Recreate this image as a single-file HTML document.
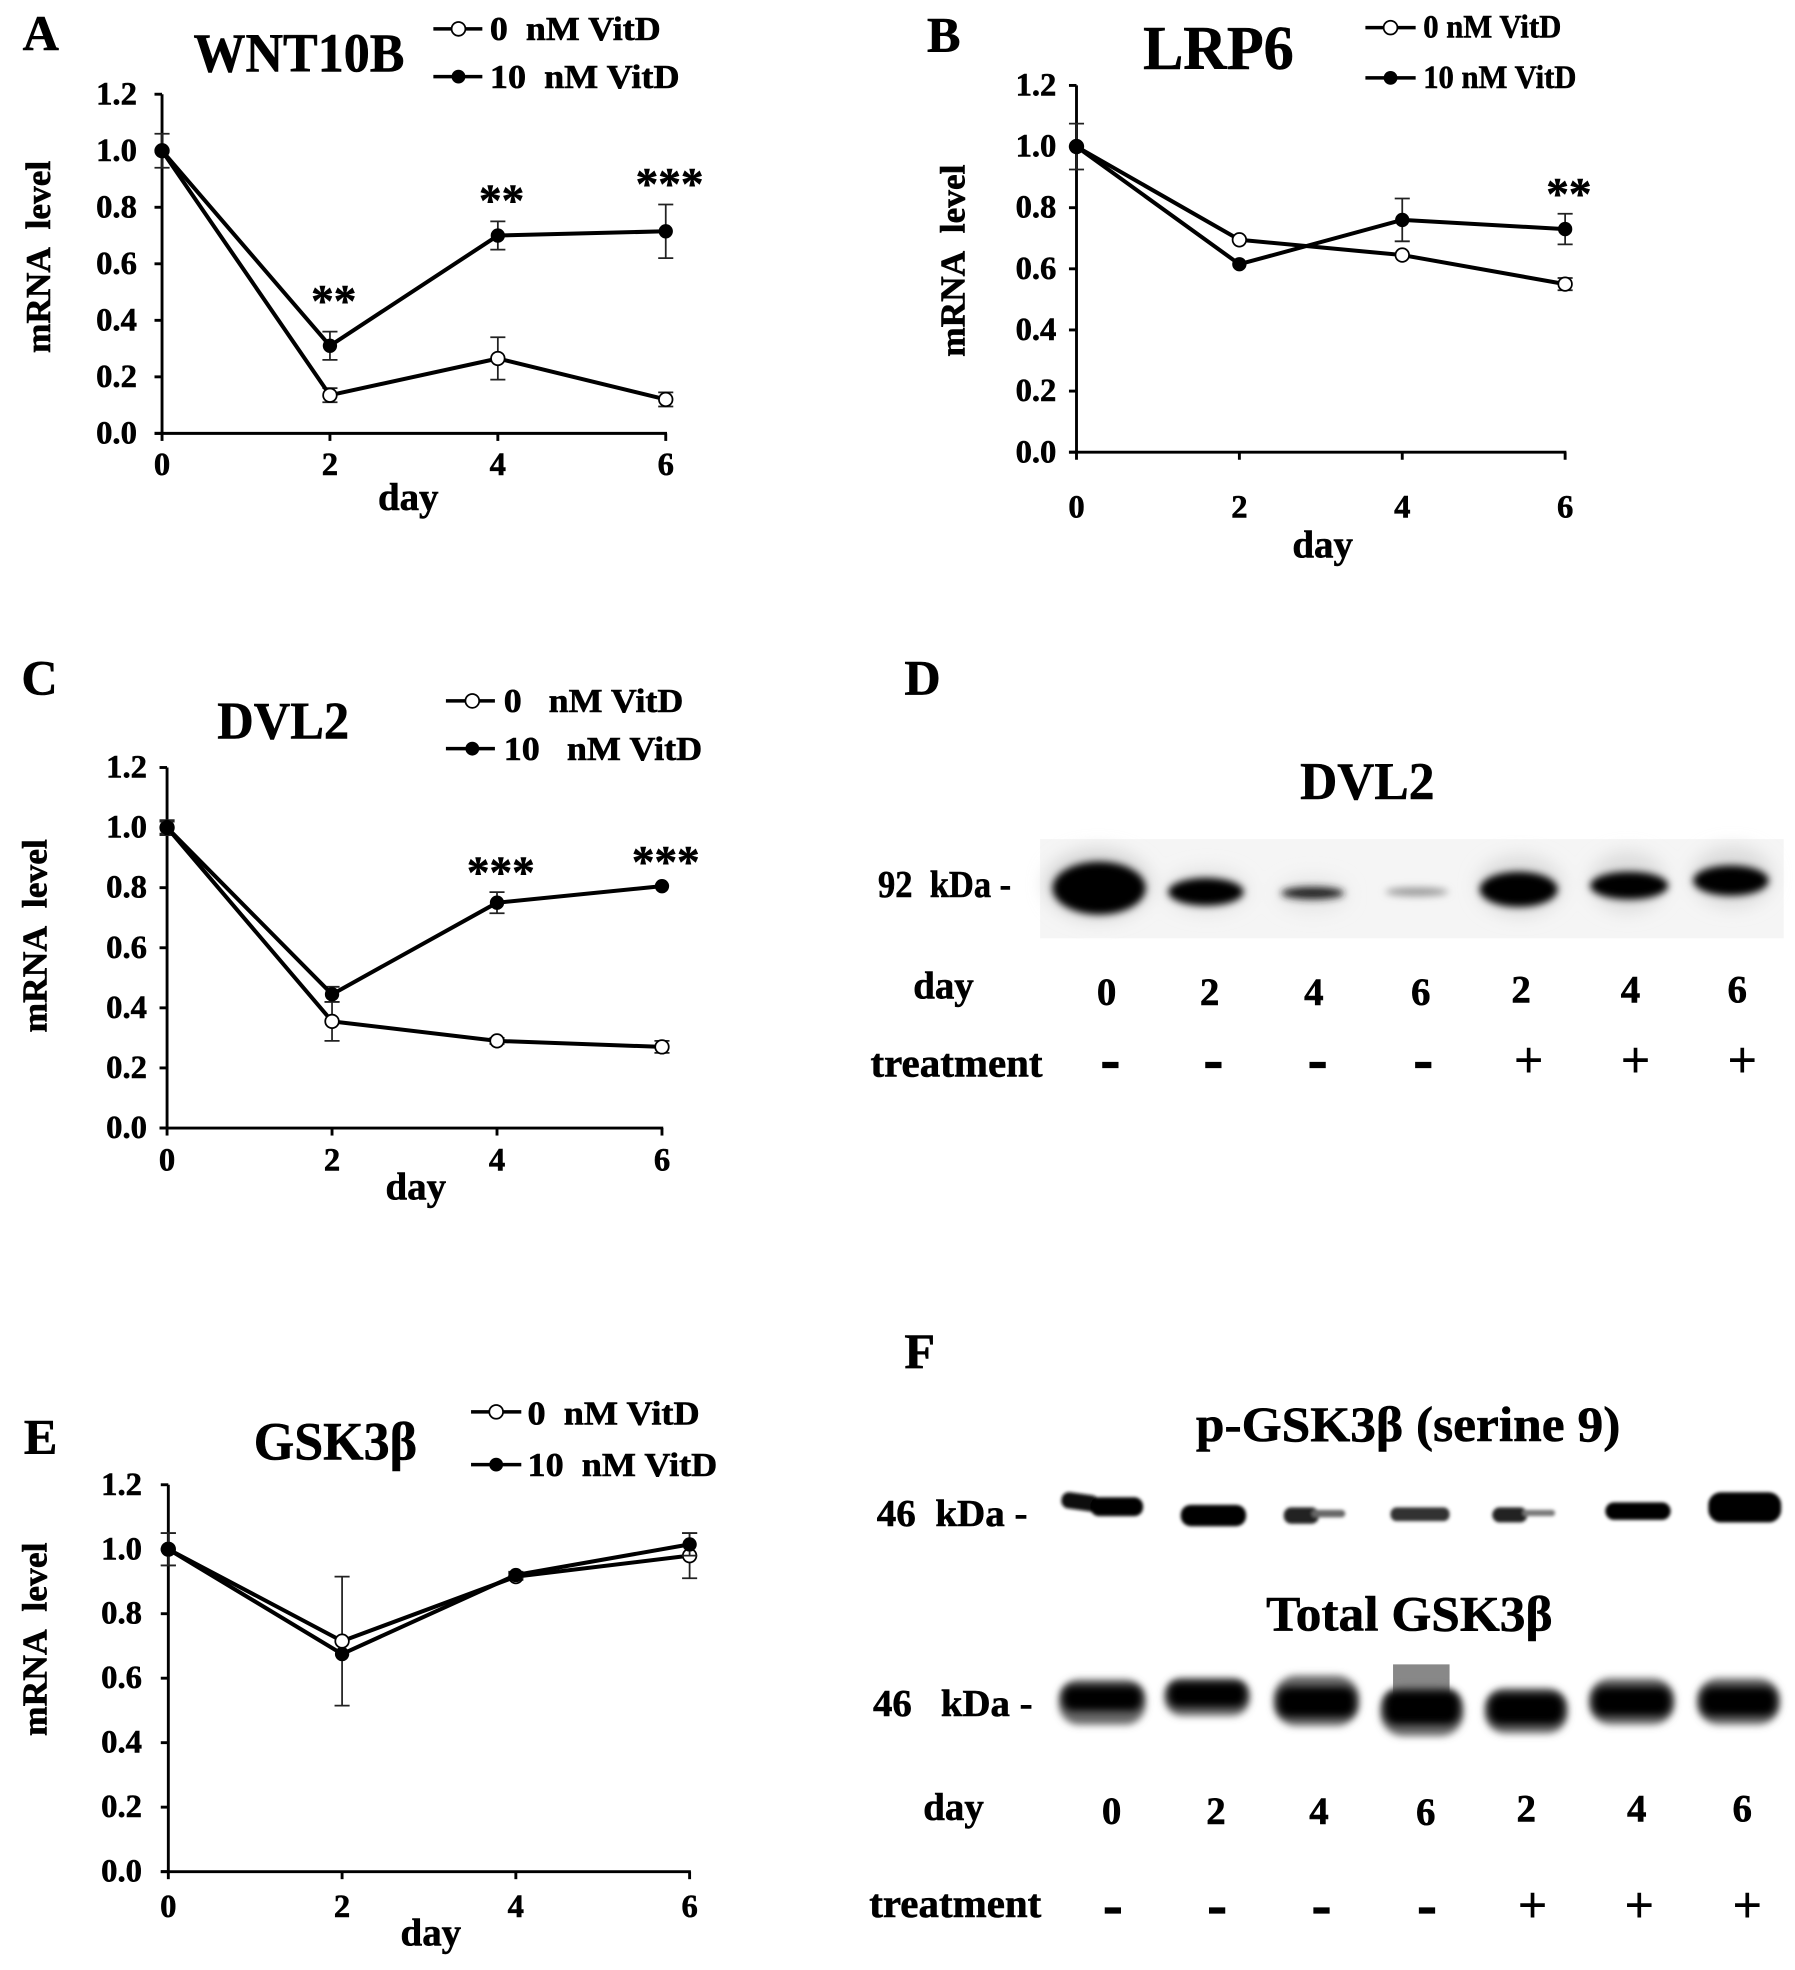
<!DOCTYPE html>
<html lang="en">
<head>
<meta charset="utf-8">
<title>Vitamin D effects on WNT pathway mRNA and protein levels</title>
<style>
html,body{margin:0;padding:0;background:#fff;width:1795px;height:1970px;overflow:hidden}
svg{display:block}
text{font-family:"Liberation Serif","DejaVu Serif",serif;font-weight:700;fill:#000;stroke:#000;stroke-width:.45px}
.panel{font-size:40px}
.tk{font-size:26px}
.lane{font-size:31px}
.plus{font-weight:700;font-size:42px;stroke-width:0}
.minus{font-size:46px;stroke-width:1px}
</style>
</head>
<body>
<svg id="figure" xmlns="http://www.w3.org/2000/svg" width="1795" height="1970" viewBox="0 0 1429 1568.3">
  <defs>
    <filter id="blur-strong" x="-30%" y="-60%" width="160%" height="220%"><feGaussianBlur stdDeviation="3"/></filter>
    <filter id="blur-halo" x="-40%" y="-80%" width="180%" height="260%"><feGaussianBlur stdDeviation="7"/></filter>
    <filter id="blur-soft" x="-30%" y="-60%" width="160%" height="220%"><feGaussianBlur stdDeviation="1.3"/></filter>
    <filter id="blur-core" x="-30%" y="-60%" width="160%" height="220%"><feGaussianBlur stdDeviation="3.2"/></filter>
  </defs>
  <rect width="1429" height="1568.3" fill="#fff"/>

  <!-- Panel letters and chart titles -->
  <text class="panel" x="18" y="40">A</text>
  <text x="154" y="57" font-size="44" textLength="168" lengthAdjust="spacingAndGlyphs">WNT10B</text>
  <text class="panel" x="738" y="41">B</text>
  <text x="910" y="55" font-size="50" textLength="120" lengthAdjust="spacingAndGlyphs">LRP6</text>
  <text class="panel" x="17" y="553">C</text>
  <text x="173" y="588" font-size="42" textLength="105" lengthAdjust="spacingAndGlyphs">DVL2</text>
  <text class="panel" x="19" y="1157">E</text>
  <text x="202" y="1162" font-size="43" textLength="130" lengthAdjust="spacingAndGlyphs">GSK3β</text>

  <!-- Axis titles -->
  <text transform="translate(40,281) rotate(-90)" font-size="28" textLength="153" lengthAdjust="spacingAndGlyphs">mRNA&#160;&#160;level</text>
  <text x="325" y="406" font-size="31" text-anchor="middle">day</text>
  <text transform="translate(768,284) rotate(-90)" font-size="28" textLength="153" lengthAdjust="spacingAndGlyphs">mRNA&#160;&#160;level</text>
  <text x="1053" y="444" font-size="31" text-anchor="middle">day</text>
  <text transform="translate(37,822) rotate(-90)" font-size="28" textLength="154" lengthAdjust="spacingAndGlyphs">mRNA&#160;&#160;level</text>
  <text x="331" y="955" font-size="31" text-anchor="middle">day</text>
  <text transform="translate(37,1382) rotate(-90)" font-size="28" textLength="154" lengthAdjust="spacingAndGlyphs">mRNA&#160;&#160;level</text>
  <text x="343" y="1549" font-size="31" text-anchor="middle">day</text>

  <!-- Legends -->
  <g>
    <line x1="345" y1="23" x2="384" y2="23" stroke="#000" stroke-width="2.8"/>
    <circle cx="365" cy="23" r="5.5" fill="#fff" stroke="#000" stroke-width="1.4"/>
    <text x="390" y="32" font-size="27" textLength="136" lengthAdjust="spacingAndGlyphs">0&#160;&#160;nM VitD</text>
    <line x1="345" y1="61" x2="384" y2="61" stroke="#000" stroke-width="2.8"/>
    <circle cx="365" cy="61" r="5.5" fill="#000"/>
    <text x="390" y="70" font-size="27" textLength="151" lengthAdjust="spacingAndGlyphs">10&#160;&#160;nM VitD</text>
  </g>
  <g>
    <line x1="1087" y1="22" x2="1127" y2="22" stroke="#000" stroke-width="2.8"/>
    <circle cx="1107" cy="22" r="5.5" fill="#fff" stroke="#000" stroke-width="1.4"/>
    <text x="1133" y="30" font-size="26" textLength="110" lengthAdjust="spacingAndGlyphs">0 nM VitD</text>
    <line x1="1087" y1="62" x2="1127" y2="62" stroke="#000" stroke-width="2.8"/>
    <circle cx="1107" cy="62" r="5.5" fill="#000"/>
    <text x="1133" y="70" font-size="26" textLength="122" lengthAdjust="spacingAndGlyphs">10 nM VitD</text>
  </g>
  <g>
    <line x1="355" y1="558" x2="394" y2="558" stroke="#000" stroke-width="2.8"/>
    <circle cx="376" cy="558" r="5.5" fill="#fff" stroke="#000" stroke-width="1.4"/>
    <text x="401" y="567" font-size="27" textLength="143" lengthAdjust="spacingAndGlyphs">0&#160;&#160;&#160;nM VitD</text>
    <line x1="355" y1="596" x2="394" y2="596" stroke="#000" stroke-width="2.8"/>
    <circle cx="376" cy="596" r="5.5" fill="#000"/>
    <text x="401" y="605" font-size="27" textLength="158" lengthAdjust="spacingAndGlyphs">10&#160;&#160;&#160;nM VitD</text>
  </g>
  <g>
    <line x1="375" y1="1124" x2="415" y2="1124" stroke="#000" stroke-width="2.8"/>
    <circle cx="395" cy="1124" r="5.5" fill="#fff" stroke="#000" stroke-width="1.4"/>
    <text x="420" y="1134" font-size="27" textLength="137" lengthAdjust="spacingAndGlyphs">0&#160;&#160;nM VitD</text>
    <line x1="375" y1="1166" x2="415" y2="1166" stroke="#000" stroke-width="2.8"/>
    <circle cx="395" cy="1166" r="5.5" fill="#000"/>
    <text x="420" y="1175" font-size="27" textLength="151" lengthAdjust="spacingAndGlyphs">10&#160;&#160;nM VitD</text>
  </g>

  <!-- Panel D: western blot -->
  <g>
    <text class="panel" x="720" y="553">D</text>
    <text x="1035" y="636" font-size="42" textLength="107" lengthAdjust="spacingAndGlyphs">DVL2</text>
    <rect x="828" y="668" width="592" height="79" fill="#f5f5f5"/>
    <text x="699" y="714" font-size="30" textLength="106" lengthAdjust="spacingAndGlyphs">92&#160;&#160;kDa -</text>
    <g filter="url(#blur-halo)">
      <ellipse cx="874" cy="704" rx="42" ry="28" fill="#d4d4d4"/>
      <ellipse cx="961" cy="709" rx="32" ry="17" fill="#e0e0e0"/>
      <ellipse cx="1045" cy="712" rx="28" ry="14" fill="#e6e6e6"/>
      <ellipse cx="1210" cy="705" rx="34" ry="24" fill="#dcdcdc"/>
      <ellipse cx="1296" cy="702" rx="30" ry="24" fill="#dcdcdc"/>
      <ellipse cx="1379" cy="698" rx="32" ry="24" fill="#dadada"/>
    </g>
    <g filter="url(#blur-strong)">
      <ellipse cx="875" cy="707" rx="37" ry="21" fill="#000"/>
      <ellipse cx="960" cy="710" rx="30" ry="11" fill="#000"/>
      <ellipse cx="1045" cy="711" rx="25" ry="5" fill="#222"/>
      <ellipse cx="1128" cy="710" rx="25" ry="3.5" fill="#999"/>
      <ellipse cx="1209" cy="708" rx="31" ry="14" fill="#000"/>
      <ellipse cx="1297" cy="705" rx="31" ry="11" fill="#000"/>
      <ellipse cx="1378" cy="701" rx="30" ry="12" fill="#000"/>
    </g>
    <text x="727" y="795" font-size="31">day</text>
    <text class="lane" x="881" y="800" text-anchor="middle">0</text>
    <text class="lane" x="963" y="800" text-anchor="middle">2</text>
    <text class="lane" x="1046" y="800" text-anchor="middle">4</text>
    <text class="lane" x="1131" y="800" text-anchor="middle">6</text>
    <text class="lane" x="1211" y="798" text-anchor="middle">2</text>
    <text class="lane" x="1298" y="798" text-anchor="middle">4</text>
    <text class="lane" x="1383" y="798" text-anchor="middle">6</text>
    <text x="693" y="857" font-size="32" textLength="137" lengthAdjust="spacingAndGlyphs">treatment</text>
    <text class="minus" x="884" y="859" text-anchor="middle">-</text>
    <text class="minus" x="966" y="859" text-anchor="middle">-</text>
    <text class="minus" x="1049" y="859" text-anchor="middle">-</text>
    <text class="minus" x="1133" y="859" text-anchor="middle">-</text>
    <text class="plus" x="1217" y="858" text-anchor="middle">+</text>
    <text class="plus" x="1302" y="858" text-anchor="middle">+</text>
    <text class="plus" x="1387" y="858" text-anchor="middle">+</text>
  </g>

  <!-- Panel F: western blots -->
  <g>
    <text class="panel" x="720" y="1089">F</text>
    <text x="952" y="1147" font-size="40" textLength="338" lengthAdjust="spacingAndGlyphs">p-GSK3β (serine 9)</text>
    <text x="698" y="1215" font-size="30" textLength="120" lengthAdjust="spacingAndGlyphs">46&#160;&#160;kDa -</text>
    <g filter="url(#blur-soft)">
      <rect x="845" y="1189" width="30" height="13" rx="6" transform="rotate(8 859 1195)" fill="#111"/>
      <rect x="868" y="1192" width="42" height="15" rx="7" fill="#000"/>
      <rect x="940" y="1198" width="52" height="17" rx="8" fill="#000"/>
      <rect x="1022" y="1200" width="28" height="13" rx="6" fill="#222"/>
      <rect x="1044" y="1202" width="27" height="6" rx="3" fill="#666"/>
      <rect x="1107" y="1200" width="47" height="11" rx="5" fill="#333"/>
      <rect x="1188" y="1200" width="28" height="12" rx="6" fill="#222"/>
      <rect x="1212" y="1202" width="26" height="5" rx="2.5" fill="#777"/>
      <rect x="1278" y="1196" width="52" height="14" rx="7" fill="#000"/>
      <rect x="1360" y="1188" width="58" height="24" rx="10" fill="#000"/>
    </g>
    <text x="1008" y="1298" font-size="40" textLength="228" lengthAdjust="spacingAndGlyphs">Total GSK3β</text>
    <text x="695" y="1366" font-size="30" textLength="127" lengthAdjust="spacingAndGlyphs">46&#160;&#160;&#160;kDa -</text>
    <rect x="1109" y="1325" width="45" height="25" fill="#888"/>
    <g filter="url(#blur-strong)">
      <rect x="843" y="1337" width="69" height="36" rx="16" fill="#666"/>
      <rect x="927" y="1336" width="68" height="30" rx="14" fill="#666"/>
      <rect x="1014" y="1334" width="68" height="40" rx="18" fill="#666"/>
      <rect x="1099" y="1343" width="66" height="39" rx="18" fill="#666"/>
      <rect x="1182" y="1344" width="66" height="36" rx="16" fill="#666"/>
      <rect x="1265" y="1336" width="68" height="37" rx="17" fill="#666"/>
      <rect x="1351" y="1336" width="66" height="37" rx="17" fill="#666"/>
    </g>
    <g filter="url(#blur-core)">
      <rect x="846" y="1342" width="63" height="20" rx="8" fill="#000"/>
      <rect x="930" y="1339" width="62" height="20" rx="8" fill="#000"/>
      <rect x="1017" y="1343" width="62" height="24" rx="9" fill="#000"/>
      <rect x="1102" y="1346" width="60" height="27" rx="10" fill="#000"/>
      <rect x="1185" y="1348" width="60" height="25" rx="10" fill="#000"/>
      <rect x="1268" y="1343" width="62" height="23" rx="9" fill="#000"/>
      <rect x="1354" y="1343" width="60" height="23" rx="9" fill="#000"/>
    </g>
    <text x="735" y="1449" font-size="31">day</text>
    <text class="lane" x="885" y="1452" text-anchor="middle">0</text>
    <text class="lane" x="968" y="1452" text-anchor="middle">2</text>
    <text class="lane" x="1050" y="1452" text-anchor="middle">4</text>
    <text class="lane" x="1135" y="1453" text-anchor="middle">6</text>
    <text class="lane" x="1215" y="1450" text-anchor="middle">2</text>
    <text class="lane" x="1303" y="1450" text-anchor="middle">4</text>
    <text class="lane" x="1387" y="1450" text-anchor="middle">6</text>
    <text x="692" y="1526" font-size="32" textLength="137" lengthAdjust="spacingAndGlyphs">treatment</text>
    <text class="minus" x="886" y="1532" text-anchor="middle">-</text>
    <text class="minus" x="969" y="1532" text-anchor="middle">-</text>
    <text class="minus" x="1052" y="1532" text-anchor="middle">-</text>
    <text class="minus" x="1136" y="1532" text-anchor="middle">-</text>
    <text class="plus" x="1220" y="1531" text-anchor="middle">+</text>
    <text class="plus" x="1305" y="1531" text-anchor="middle">+</text>
    <text class="plus" x="1391" y="1531" text-anchor="middle">+</text>
  </g>
</svg>

<script>
// Shared categories and tick labels
var days = [0, 2, 4, 6];
var yTicks = [0, 0.2, 0.4, 0.6, 0.8, 1.0, 1.2];
var yTickLabels = ['0.0', '0.2', '0.4', '0.6', '0.8', '1.0', '1.2'];

// Panel A: WNT10B
var aOpen = [1.0, 0.135, 0.265, 0.12];
var aOpenErr = [0.06, 0.025, 0.075, 0.025];
var aFilled = [1.0, 0.31, 0.70, 0.715];
var aFilledErr = [0, 0.05, 0.05, 0.095];
var aStarDays = [2, 4, 6];
var aStarLevels = [0.495, 0.85, 0.91];
var aStarLabels = ['**', '**', '***'];

// Panel B: LRP6
var bOpen = [1.0, 0.695, 0.645, 0.55];
var bOpenErr = [0.075, 0, 0, 0.02];
var bFilled = [1.0, 0.615, 0.76, 0.73];
var bFilledErr = [0, 0, 0.07, 0.05];
var bStarDays = [6];
var bStarLevels = [0.87];
var bStarLabels = ['**'];

// Panel C: DVL2
var cOpen = [1.0, 0.355, 0.29, 0.27];
var cOpenErr = [0.025, 0.065, 0.01, 0.02];
var cFilled = [1.0, 0.445, 0.75, 0.805];
var cFilledErr = [0.02, 0.025, 0.035, 0];
var cStarDays = [4, 6];
var cStarLevels = [0.875, 0.91];
var cStarLabels = ['***', '***'];

// Panel E: GSK3beta
var eOpen = [1.0, 0.715, 0.915, 0.98];
var eOpenErr = [0.05, 0.2, 0.01, 0.07];
var eFilled = [1.0, 0.675, 0.92, 1.015];
var eFilledErr = [0.05, 0, 0.01, 0.035];

var SVG_NS = 'http://www.w3.org/2000/svg';
var figure = document.getElementById('figure');

function make(tag, attrs, parent) {
  var node = document.createElementNS(SVG_NS, tag);
  for (var k in attrs) { node.setAttribute(k, attrs[k]); }
  parent.appendChild(node);
  return node;
}

function drawChart(id, box, values) {
  var xScale = function (d) { return box.left + (d / 6) * (box.right - box.left); };
  var yScale = function (v) { return box.bottom - (v / 1.2) * (box.bottom - box.top); };

  var group = make('g', {}, figure);
  
  

  var yAxis = make('line', {x1: box.left, x2: box.left, y1: yScale(1.2), y2: yScale(0), stroke: '#000', 'stroke-width': 2.3}, group);
  
  

  var xAxis = make('line', {x1: xScale(0) - 6, x2: xScale(6) + 1, y1: yScale(0), y2: yScale(0), stroke: '#000', 'stroke-width': 2.3}, group);
  
  

  yTicks.forEach(function (tick, i) {
    var mark = make('line', {x1: box.left - 6, x2: box.left, y1: yScale(tick), y2: yScale(tick), stroke: '#000', 'stroke-width': 2.3}, group);
    
    
    var label = make('text', {x: box.left - box.yLabelGap, y: yScale(tick) + 8, 'text-anchor': 'end', 'class': 'tk'}, group);
    label.textContent = yTickLabels[i];
    
    
  });

  days.forEach(function (day) {
    var mark = make('line', {x1: xScale(day), x2: xScale(day), y1: yScale(0), y2: yScale(0) + 6, stroke: '#000', 'stroke-width': 2.3}, group);
    
    
    var label = make('text', {x: xScale(day), y: box.xLabelY, 'text-anchor': 'middle', 'class': 'tk'}, group);
    label.textContent = String(day);
    
    
  });

  function series(kind, means, errs, fill, radius) {
    errs.forEach(function (err, i) {
      if (err <= 0) { return; }
      var x = xScale(days[i]);
      var bar = make('path', {
        d: 'M' + x + ' ' + yScale(means[i] + err) + 'V' + yScale(means[i] - err) +
           'M' + (x - 6) + ' ' + yScale(means[i] + err) + 'h12' +
           'M' + (x - 6) + ' ' + yScale(means[i] - err) + 'h12',
        stroke: '#222', 'stroke-width': 1.4, fill: 'none'
      }, group);
      
      
    });
    var pts = means.map(function (v, i) { return xScale(days[i]) + ',' + yScale(v); }).join(' ');
    var line = make('polyline', {points: pts, fill: 'none', stroke: '#000', 'stroke-width': 3.2, 'stroke-linejoin': 'round'}, group);
    
    
    means.forEach(function (v, i) {
      var pt = make('circle', {cx: xScale(days[i]), cy: yScale(v), r: radius, fill: fill, stroke: '#000', 'stroke-width': 1.4}, group);
      
      
    });
  }
  series('0nm', values.open, values.openErr, '#fff', 5.4);
  series('10nm', values.filled, values.filledErr, '#000', 5);

  (values.starDays || []).forEach(function (day, i) {
    var star = make('text', {x: xScale(day) + 3, y: yScale(values.starLevels[i]) + 18, 'text-anchor': 'middle', 'font-size': 36, 'stroke-width': 0.8}, group);
    star.textContent = values.starLabels[i];
    
    
  });
}

drawChart('a', {left: 129, right: 530, top: 75, bottom: 345, xLabelY: 378, yLabelGap: 20},
  {open: aOpen, openErr: aOpenErr, filled: aFilled, filledErr: aFilledErr, starDays: aStarDays, starLevels: aStarLevels, starLabels: aStarLabels});
drawChart('b', {left: 857, right: 1246, top: 68, bottom: 360, xLabelY: 412, yLabelGap: 16},
  {open: bOpen, openErr: bOpenErr, filled: bFilled, filledErr: bFilledErr, starDays: bStarDays, starLevels: bStarLevels, starLabels: bStarLabels});
drawChart('c', {left: 133, right: 527, top: 611, bottom: 898, xLabelY: 932, yLabelGap: 16},
  {open: cOpen, openErr: cOpenErr, filled: cFilled, filledErr: cFilledErr, starDays: cStarDays, starLevels: cStarLevels, starLabels: cStarLabels});
drawChart('e', {left: 134, right: 549, top: 1182, bottom: 1490, xLabelY: 1526, yLabelGap: 21},
  {open: eOpen, openErr: eOpenErr, filled: eFilled, filledErr: eFilledErr});
</script>
</body>
</html>
